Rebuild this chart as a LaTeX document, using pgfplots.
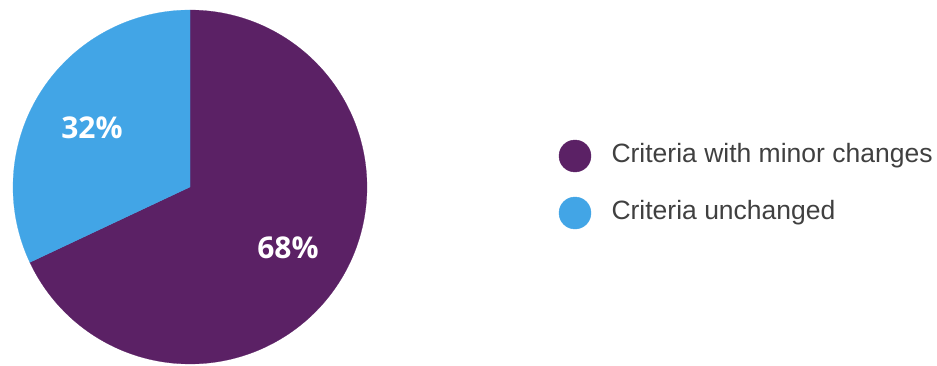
\documentclass[border=0pt]{standalone}
\usepackage{pgfplots}
\pgfplotsset{compat=1.18}
\usepackage{fontspec}
\setmainfont{Liberation Sans}
\newfontfamily\pctfont{Open Sans}
\definecolor{piepurple}{HTML}{5B2165}
\definecolor{pieblue}{HTML}{42A5E6}
\definecolor{legtext}{HTML}{404040}
% data
\def\valA{68} % Criteria with minor changes
\def\valB{32} % Criteria unchanged
\def\cx{190}
\def\cy{178}
\def\rr{177}
\begin{document}
\begin{tikzpicture}
\begin{axis}[
  x=1pt, y=1pt,
  xmin=0, xmax=937, ymin=0, ymax=365,
  hide axis, clip=false,
]
\path (axis cs:0,0) rectangle (axis cs:937,365);
% sector A: clockwise from 12 o'clock
\addplot[fill=piepurple, draw=piepurple, line width=0.2pt, domain={90-3.6*\valA}:90, samples=150, variable=\t]
  ({\cx+\rr*cos(\t)},{\cy+\rr*sin(\t)}) -- (axis cs:\cx,\cy) -- cycle;
% sector B
\addplot[fill=pieblue, draw=pieblue, line width=0.2pt, domain=90:{90+3.6*\valB}, samples=100, variable=\t]
  ({\cx+\rr*cos(\t)},{\cy+\rr*sin(\t)}) -- (axis cs:\cx,\cy) -- cycle;
% percentage labels
\node[text=white, font=\pctfont\bfseries\fontsize{30}{30}\selectfont] at (axis cs:92,237) {\valB\%};
\node[text=white, font=\pctfont\bfseries\fontsize{30}{30}\selectfont] at (axis cs:288,117) {\valA\%};
% legend markers
\addplot[only marks, mark=*, mark size=16pt, color=piepurple] coordinates {(575,209)};
\addplot[only marks, mark=*, mark size=16pt, color=pieblue] coordinates {(575,152)};
\node[anchor=west, text=legtext, font=\fontsize{26.5}{26.5}\selectfont] at (axis cs:608,209) {Criteria with minor changes};
\node[anchor=west, text=legtext, font=\fontsize{26.5}{26.5}\selectfont] at (axis cs:608,152) {Criteria unchanged};
\end{axis}
\end{tikzpicture}
\end{document}
